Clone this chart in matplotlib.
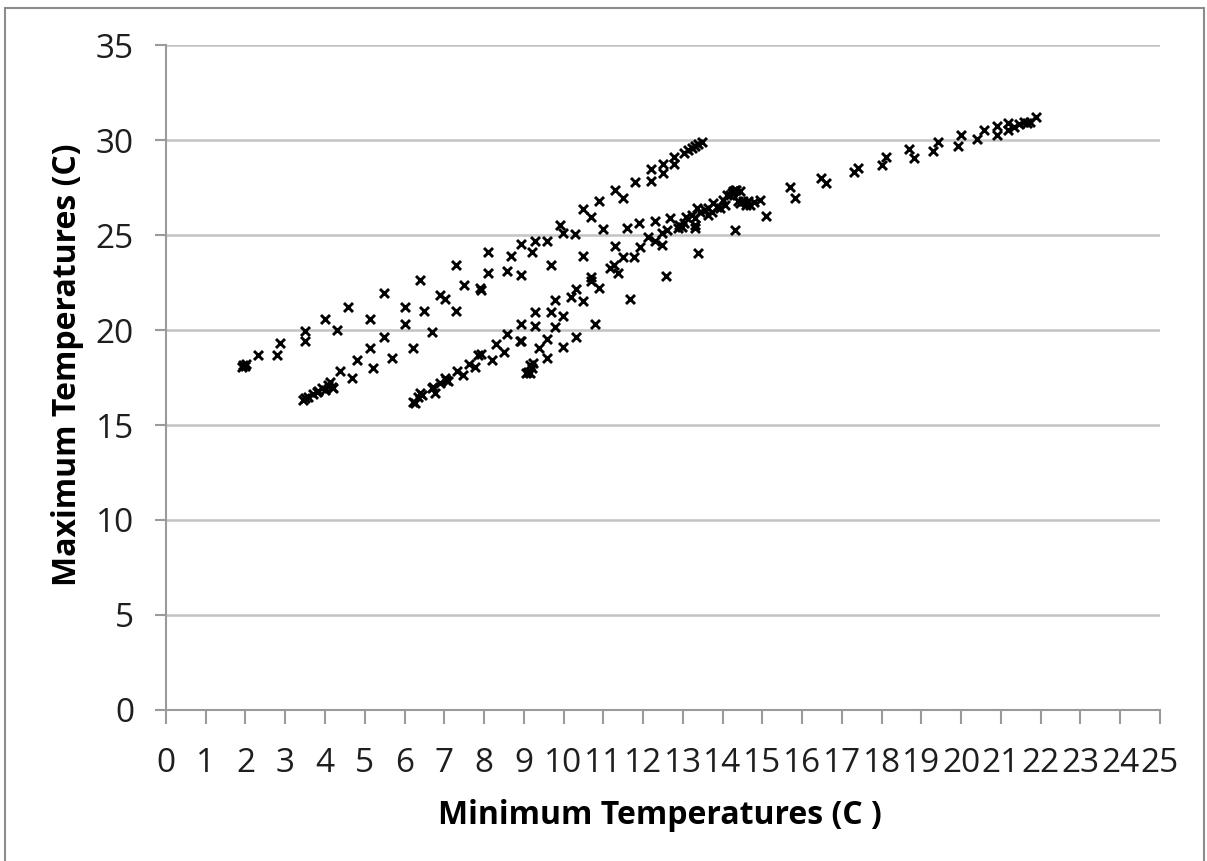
import matplotlib
matplotlib.use('Agg')
import matplotlib.pyplot as plt
from matplotlib.patches import Rectangle

plt.rcParams['font.family'] = ['Open Sans', 'DejaVu Sans']

GRID = '#C3C3C3'
AXIS = '#9A9A9A'

# ── data: (min temp, max temp) ──
# upper band, 2 -> 13.5
min_a = [1.90, 1.95, 2.00, 2.02, 2.31, 2.80, 2.88, 3.50, 3.50, 4.01, 4.29, 4.59,
         5.12, 5.49, 6.01, 6.01, 6.39, 6.50, 6.68, 6.89, 7.02, 7.30, 7.30, 7.50,
         7.90, 7.92, 8.09, 8.11, 8.59, 8.69, 8.92, 8.92, 9.20, 9.29, 9.59, 9.69,
         9.91, 9.99, 10.30, 10.50, 10.68, 10.90, 11.30, 11.49, 11.80, 12.20, 12.20,
         12.49, 12.49, 12.78, 12.78, 13.02, 13.14, 13.22, 13.31, 13.39, 13.48]
max_a = [18.05, 18.15, 18.10, 18.20, 18.68, 18.68, 19.30, 19.96, 19.42, 20.58, 20.00, 21.19,
         20.58, 21.96, 21.19, 20.30, 22.63, 21.02, 19.91, 21.84, 21.61, 23.42, 21.02, 22.37,
         22.20, 22.10, 24.12, 23.02, 23.12, 23.89, 24.53, 22.89, 24.12, 24.70, 24.70, 23.42,
         25.53, 25.09, 25.05, 26.35, 25.93, 26.81, 27.37, 26.93, 27.81, 28.46, 27.84,
         28.74, 28.28, 29.09, 28.74, 29.30, 29.47, 29.56, 29.68, 29.79, 29.91]

# band starting near 3.5
min_b = [3.45, 3.50, 3.58, 3.71, 3.79, 3.83, 3.92, 4.00, 4.08, 4.13, 4.17, 4.21,
         4.38, 4.67, 4.80, 5.12, 5.21, 5.49, 5.68, 6.21]
max_b = [16.30, 16.40, 16.49, 16.63, 16.75, 16.81, 16.93, 16.84, 17.11, 17.28, 17.02, 16.93,
         17.84, 17.46, 18.42, 19.04, 18.02, 19.65, 18.51, 19.04]

# band starting near 6.2
min_c = [6.22, 6.26, 6.35, 6.39, 6.43, 6.68, 6.72, 6.77, 6.89, 7.02, 7.04, 7.10,
         7.31, 7.48, 7.61, 7.77, 7.86, 7.92, 8.21, 8.30, 8.50, 8.59, 8.90, 8.92,
         8.92, 9.05, 9.10, 9.16, 9.16, 9.20, 9.24, 9.29, 9.29, 9.39, 9.58, 9.59,
         9.69, 9.79, 9.79, 9.99, 9.99, 10.19, 10.31, 10.31, 10.50, 10.50, 10.68, 10.68,
         10.79, 10.90, 11.00, 11.17, 11.26, 11.30, 11.38, 11.49, 11.59, 11.67, 11.78,
         11.91, 11.92, 12.13, 12.30, 12.30, 12.47, 12.47, 12.58, 12.60, 12.68, 12.89,
         12.91, 12.97, 13.02, 13.08, 13.22, 13.31, 13.31, 13.31, 13.35, 13.39, 13.44,
         13.56, 13.64, 13.64, 13.73, 13.77, 13.85, 13.94, 14.02, 14.06, 14.10, 14.19,
         14.23, 14.27, 14.31, 14.35, 14.44, 14.30, 14.40, 14.52, 14.65, 14.78, 14.94,
         14.44, 14.58, 14.70, 15.09]
max_c = [16.23, 16.14, 16.49, 16.67, 16.60, 16.93, 17.02, 16.67, 17.19, 17.46, 17.37, 17.30,
         17.86, 17.63, 18.21, 18.07, 18.68, 18.74, 18.42, 19.26, 18.86, 19.79, 19.40, 20.32,
         19.44, 17.75, 17.81, 17.72, 18.16, 17.98, 18.25, 20.93, 20.21, 19.04, 18.51, 19.51,
         20.93, 21.58, 20.14, 20.74, 19.09, 21.75, 22.14, 19.65, 21.54, 23.89, 22.81, 22.58,
         20.32, 22.23, 25.32, 23.25, 23.42, 24.44, 23.02, 23.86, 25.38, 21.61, 23.85,
         25.61, 24.36, 24.91, 24.68, 25.74, 24.47, 25.09, 22.84, 25.26, 25.87, 25.35,
         25.53, 25.44, 25.61, 25.96, 26.05, 25.87, 25.53, 25.35, 26.40, 24.07, 26.23,
         26.32, 26.40, 26.05, 26.23, 26.67, 26.49, 26.40, 26.84, 26.58, 27.10, 27.10,
         27.20, 27.33, 27.37, 27.37, 27.33, 25.26, 26.80, 26.80, 26.80, 26.75, 26.84,
         26.67, 26.58, 26.60, 26.00]

# band running out to 22
min_d = [15.70, 15.82, 16.48, 16.59, 17.31, 17.40, 18.00, 18.10, 18.69, 18.82, 19.30, 19.41,
         19.91, 20.00, 20.39, 20.58, 20.89, 20.91, 21.19, 21.19, 21.32, 21.45, 21.57, 21.66,
         21.74, 21.89]
max_d = [27.54, 26.93, 27.98, 27.75, 28.30, 28.51, 28.68, 29.12, 29.51, 29.04, 29.44, 29.91,
         29.70, 30.26, 30.03, 30.53, 30.74, 30.29, 30.91, 30.53, 30.70, 30.84, 30.96, 30.91,
         30.96, 31.19]

x_ticks = list(range(0, 26))
y_ticks = list(range(0, 36, 5))

fig = plt.figure(figsize=(12.07, 8.61), dpi=100)
ax = fig.add_axes([0.1375, 0.1754, 0.8235, 0.7723])

for xs, ys in [(min_a, max_a), (min_b, max_b), (min_c, max_c), (min_d, max_d)]:
    ax.scatter(xs, ys, marker='x', s=42, color='black', linewidths=2.1, zorder=3)

ax.set_xlim(0, 25)
ax.set_ylim(0, 35)
ax.set_xticks(x_ticks)
ax.set_yticks(y_ticks)
ax.yaxis.grid(True, color=GRID, linewidth=1.8)
ax.set_axisbelow(True)

for s in ['top', 'right']:
    ax.spines[s].set_visible(False)
for s in ['left', 'bottom']:
    ax.spines[s].set_color(AXIS)
    ax.spines[s].set_linewidth(1.5)

ax.tick_params(axis='x', direction='out', length=10, width=1.5, color=AXIS,
               labelsize=24, pad=17, labelcolor='#1e1e1e')
ax.tick_params(axis='y', direction='out', length=8, width=1.5, color=AXIS,
               labelsize=24, pad=15, labelcolor='#1e1e1e')

ax.set_xlabel('Minimum Temperatures (C )', fontsize=23, fontweight='bold', va='center')
ax.set_ylabel('Maximum Temperatures (C)', fontsize=23, fontweight='bold', va='center')
ax.xaxis.set_label_coords(0.497, -0.158)
ax.yaxis.set_label_coords(-0.099, 0.519)

# chart border like the spreadsheet frame
fig.patches.append(Rectangle((5 / 1207, -0.01), 1199 / 1207, 1.01 - 8 / 861,
                             transform=fig.transFigure, fill=False,
                             edgecolor='#8C8C8C', linewidth=1.5))

fig.savefig('out.png', dpi=100, facecolor='white')
